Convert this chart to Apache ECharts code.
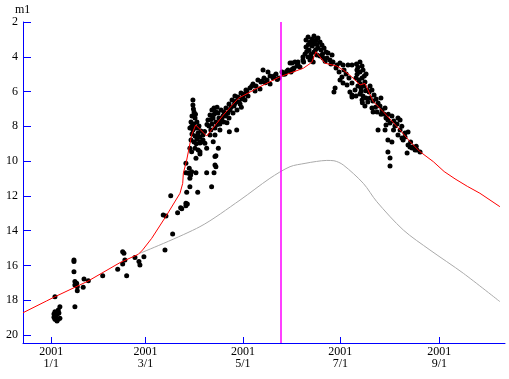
<!DOCTYPE html>
<html>
<head>
<meta charset="utf-8">
<script src="https://cdn.jsdelivr.net/npm/echarts@6/dist/echarts.min.js"></script>
<style>
html, body { margin: 0; padding: 0; background: #fff; }
#chart { width: 509px; height: 379px; }
</style>
</head>
<body>
<div id="chart"></div>
<script>
// x = days since 2001-01-01, y = magnitude (axis inverted)
const xTickDays = [0, 59, 120, 181, 243];
const xTickLabels = ['2001\n1/1', '2001\n3/1', '2001\n5/1', '2001\n7/1', '2001\n9/1'];
const yTicks = [2, 4, 6, 8, 10, 12, 14, 16, 18, 20];
const markerDay = 143.4;

const redLine = [[-17.7,18.72],[-2.9,18.04],[2.3,17.80],[23,16.90],[43,15.84],[54.5,15.36],[57.2,15.11],[62.9,14.44],
  [72.3,13.10],[80.6,11.85],[82.3,11.28],[82.7,10.70],[84.8,9.94],[87.9,8.50],[90.4,7.92],[97.3,8.56],[107.7,7.35],
  [117.1,6.39],[130.7,5.72],[143.2,5.15],[157.8,4.66],[163.1,4.32],[165.7,3.71],[171.4,4.37],[178.7,4.53],[182.8,4.76],
  [188.1,5.15],[193.3,5.62],[196.4,5.53],[201.6,6.58],[207.9,7.16],[218.4,8.21],[224.6,8.88],[230.9,9.46],[239.2,10.03],
  [246.0,10.60],[252.8,11.02],[260.5,11.45],[268.4,11.85],[280.9,12.62]];

const grayLine = [[55.5,15.30],[93.1,13.77],[118.2,12.24],[136.9,10.99],[149.5,10.32],[158.9,10.13],[166.0,10.02],
  [172.5,9.96],[177.0,9.98],[182.8,10.22],[195.4,11.28],[203.8,12.33],[220.4,13.96],[237.1,15.11],[258.0,16.45],
  [280.9,18.08]];

const janPts = [[2.3,17.80],[5.4,18.37],[4.4,18.56],[2.3,18.66],[2.9,18.91],[2.3,19.10],[4.4,19.10],[5.4,19.04],
  [3.4,19.14],[1.7,18.98],[3.8,18.79],[4.8,18.73],[1.7,18.79],[3.6,19.19],
  [14.2,15.69],[14.2,15.78],[14.2,16.36],[14.8,16.93],[15.9,17.03],[14.8,17.12],[16.3,17.22],[16.3,17.45],
  [14.8,18.37],[20.5,16.78],[20.0,17.26],[23.2,16.88]];

const febPts = [[32.2,16.59],[41.6,16.22],[44.7,15.21],[45.5,15.30],[46.1,15.69],[44.7,15.92],[47.2,16.59],
  [52.4,15.55],[54.9,15.78],[55.5,15.97],[58.0,15.50]];

const marPts = [[71.2,15.11],[76.0,14.19],[70.1,13.10],[71.8,13.16],[74.8,11.99],[79.1,12.97],[81.0,12.68],
  [81.7,12.74],[84.3,12.56],[85.2,12.47],[84.3,12.43],[84.8,11.79],[86.8,11.47],[91.7,11.79],[84.3,10.13],
  [86.4,10.41],[85.8,10.70],[87.3,10.80],[87.9,10.61],[84.3,10.67],[90.6,10.67],[97.3,10.67],[101.9,10.67],
  [86.8,10.99],[90.6,9.84],[87.9,9.46],[93.1,9.46],[100.4,11.47],[102.5,10.22],[103.1,9.69],[93.1,9.59],
  [86.8,9.26],[90.0,9.26],[93.1,8.88],[92.0,9.36],[97.3,9.26],[96.2,8.98],[99.4,8.50],[101.4,8.88],[102.5,8.50],
  [104.6,9.26],[105.6,8.21],[111.5,8.31],[116.1,8.21],[102.5,9.74],[103.1,10.32]];

const aprPts = [[88.7,6.49],[88.7,6.77],[89.4,7.18],[88.1,7.41],[90.0,7.52],[87.5,7.75],[89.4,7.87],[91.2,7.75],
  [86.8,8.10],[88.7,8.21],[90.6,8.10],[92.5,7.98],[88.1,8.44],[90.0,8.56],[91.9,8.38],[93.7,8.27],[87.5,8.79],
  [89.4,8.90],[91.2,8.73],[93.1,8.61],[95.0,8.50],[93.1,8.96],[95.0,8.79],
  [89.0,7.00],[90.3,7.30],[91.8,8.10],[92.2,8.60],[94.0,8.90],[88.0,8.00],[90.8,9.00],[96.0,8.30],
  [98.1,7.64],[99.4,7.35],[100.6,7.06],[101.9,6.95],[103.1,7.18],[101.3,7.52],[98.7,7.98],[100.6,7.87],
  [103.1,7.75],[105.0,7.52],[104.4,7.23],[106.3,7.06],[108.1,7.18],[106.9,7.52],[105.6,7.87],[102.5,8.10],
  [109.4,7.41],[111.3,7.52],[108.1,7.75],[99.9,8.21],
  [100.0,7.60],[102.0,7.30],[104.0,7.90],[107.5,7.40],[110.0,7.80],[97.5,7.90],[103.8,6.90],[106.0,7.70],
  [109.4,6.95],[111.3,6.72],[113.2,6.49],[111.9,7.06],[114.4,6.83],[115.7,6.54],[116.9,6.31],[118.2,6.72],
  [119.4,6.43],[120.7,6.14],[121.9,5.91],[118.8,6.08],[116.3,7.06],[113.8,7.23],[110.6,7.23],[123.2,6.26],
  [115.0,6.26],[121.3,6.49],[112.5,6.90],[117.5,6.60],[120.0,6.30],[114.8,6.70],[119.0,6.90],[122.5,6.00]];

const mayPts = [[124.4,5.80],[126.3,5.57],[128.2,5.68],[129.4,5.34],[131.3,5.45],[133.2,5.22],[132.6,4.76],
  [135.7,4.88],[135.1,5.34],[137.0,5.11],[138.9,5.22],[140.7,4.99],[142.6,5.22],[144.5,4.88],[146.4,4.99],
  [148.2,4.76],[150.1,4.88],[152.0,4.65],[153.9,4.53],[127.6,5.97],[130.7,5.85],[137.0,5.57],[149.5,4.36],
  [154.5,4.47],[125.5,5.70],[132.0,5.40],[139.5,5.10],[145.5,5.00],[151.0,4.70],[134.0,5.50],[141.5,5.30],
  [147.3,4.85]];

const junPts = [[150.7,4.36],[152.6,4.30],[154.5,4.30],[157.6,4.19],[151.4,4.76],[155.7,4.59],[159.5,3.04],
  [160.8,2.86],[162.0,3.15],[163.3,2.98],[164.5,2.81],[165.8,3.04],[167.0,2.92],[168.3,3.15],[169.5,3.32],
  [159.5,3.44],[161.4,3.61],[163.3,3.38],[165.1,3.27],[167.0,3.50],[168.9,3.61],[170.8,3.50],[172.0,3.73],
  [158.9,3.84],[160.8,4.01],[162.7,3.84],[164.5,3.73],[166.4,3.90],[168.3,3.96],[170.2,4.07],[162.0,4.19],
  [164.0,4.30],[157.6,4.01],[173.3,3.78],[175.8,3.90],[174.5,4.19],[176.4,4.30],[178.9,4.47],[172.6,4.07],
  [175.1,4.42],[178.3,4.65],[161.0,3.30],[163.8,3.20],[166.5,3.30],[160.0,3.70],[165.5,3.60],[169.8,3.85],
  [171.5,4.25],[158.0,4.30],[163.0,4.05]];

const julPts = [[180.8,4.36],[182.7,4.47],[185.8,4.47],[188.3,4.47],[180.8,5.34],[182.0,5.16],[177.7,5.80],
  [177.0,6.03],[182.7,5.51],[185.2,5.62],[187.0,6.03],[188.3,6.20],[190.2,5.91],[183.3,4.76],[184.6,4.99],
  [186.4,5.22],[180.2,4.88],
  [191.1,4.42],[193.3,4.30],[194.6,4.53],[191.4,4.76],[193.3,4.88],[195.2,4.76],[197.1,4.99],[190.8,5.22],
  [192.7,5.34],[194.6,5.22],[196.4,5.45],[192.0,5.68],[193.9,5.80],[195.8,5.68],[197.7,5.91],[193.3,6.14],
  [195.2,6.26],[197.1,6.37],[199.0,6.03],[199.6,6.37],[190.8,6.26],[188.3,6.31],[194.6,6.49],[196.4,6.83],
  [188.3,5.51],[200.8,6.95],[201.5,7.18],[192.0,4.60],[196.0,5.10],[193.5,5.55],[196.8,5.95],[194.0,6.00],
  [198.2,6.60],[191.5,5.00],[194.8,6.65]];

const augPts = [[199.6,5.68],[200.8,5.91],[202.1,6.20],[203.4,6.43],[204.6,6.66],[201.4,6.54],[205.8,6.83],
  [207.1,7.06],[204.0,7.18],[208.3,7.29],[209.6,7.52],[210.8,7.64],[212.1,7.81],[209.0,6.95],[213.3,7.41],
  [206.4,6.37],[215.2,7.98],[217.1,7.52],[218.4,7.64],[216.5,7.87],[209.0,8.21],[204.6,8.21],[210.8,8.79],
  [213.3,8.90],[210.8,9.48],[212.1,9.82],[212.1,10.28],[217.1,8.50],[219.6,8.67],[221.5,8.61],[218.4,8.21],
  [221.5,8.38],[223.4,8.33],[223.4,9.07],[224.6,9.19],[225.9,9.25],[227.8,9.36],[226.5,9.19],[229.0,9.36],
  [230.9,9.48],[222.8,9.53],[220.3,8.79],[209.6,7.92],[214.3,8.21],[203.0,6.90],[206.5,7.30],[211.0,7.30],
  [214.5,7.70],[219.5,8.00],[225.0,8.90],[228.5,9.15]];

const observations = [].concat(janPts, febPts, marPts, aprPts, mayPts, junPts, julPts, augPts);

const FONT = 'Liberation Serif';
const BLUE = '#0000ff';

const chart = echarts.init(document.getElementById('chart'));
chart.setOption({
  animation: false,
  grid: { left: 23, right: 4, top: 22, bottom: 36 },
  graphic: [{
    type: 'text', left: 15, top: 4,
    style: { text: 'm1', font: '12px ' + FONT, fill: '#000' }
  }],
  xAxis: {
    type: 'value', min: -17.7, max: 284.1,
    axisLine: { onZero: false, lineStyle: { color: BLUE, width: 1 } },
    axisTick: { inside: true, length: 6, customValues: xTickDays, lineStyle: { color: BLUE } },
    axisLabel: {
      customValues: xTickDays,
      formatter: v => xTickLabels[xTickDays.indexOf(v)] || '',
      color: '#000', fontFamily: FONT, fontSize: 12, lineHeight: 12, margin: 3
    },
    splitLine: { show: false }
  },
  yAxis: {
    type: 'value', inverse: true, min: 2, max: 20.46, interval: 2,
    axisLine: { onZero: false, lineStyle: { color: BLUE, width: 1 } },
    axisTick: { inside: true, length: 8, customValues: yTicks, lineStyle: { color: BLUE } },
    axisLabel: {
      customValues: yTicks,
      color: '#000', fontFamily: FONT, fontSize: 12, margin: 5
    },
    splitLine: { show: false }
  },
  series: [
    {
      type: 'line', data: grayLine, smooth: 0.3, showSymbol: false,
      lineStyle: { color: '#aaaaaa', width: 1 }, z: 1
    },
    {
      type: 'scatter', data: observations, symbol: 'circle', symbolSize: 5,
      itemStyle: { color: '#000', opacity: 1 }, z: 2
    },
    {
      type: 'line', data: redLine, showSymbol: false,
      lineStyle: { color: '#ff0000', width: 1 }, z: 3,
      markLine: {
        silent: true, symbol: 'none', label: { show: false },
        lineStyle: { color: '#ff00ff', width: 1.5, type: 'solid', opacity: 1 },
        data: [{ xAxis: markerDay }]
      }
    }
  ]
});
</script>
</body>
</html>
